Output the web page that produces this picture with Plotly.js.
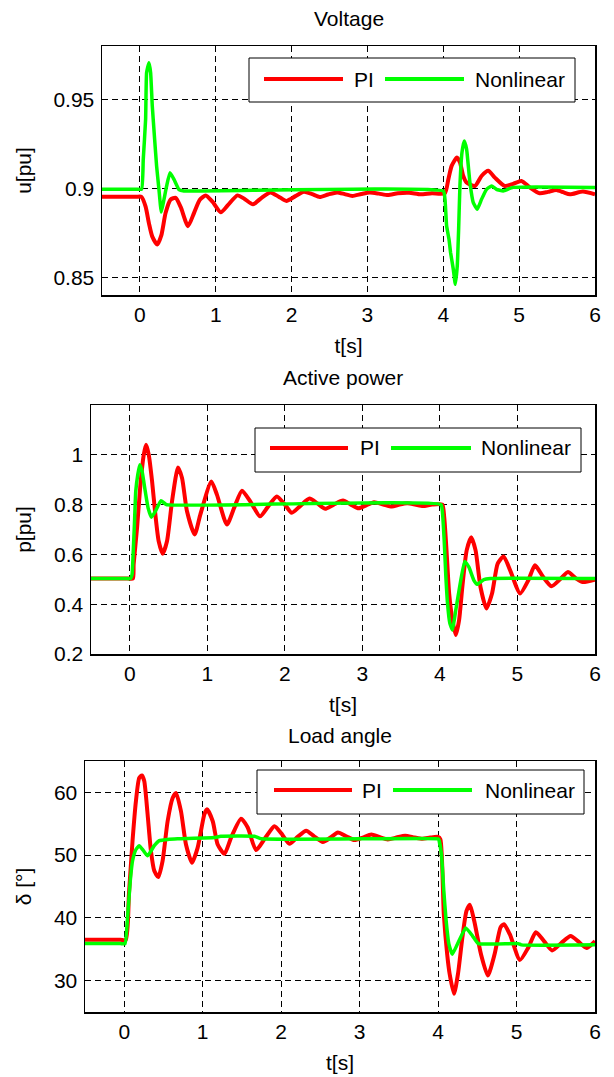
<!DOCTYPE html>
<html>
<head>
<meta charset="utf-8">
<script src="https://cdn.plot.ly/plotly-3.0.1.min.js"></script>
<style>
  html, body { margin: 0; padding: 0; background: #fff; }
  #chart { width: 614px; height: 1077px; }
</style>
</head>
<body>
<div id="chart"></div>
<script>
// ---- Series names and panel titles ----
const seriesNames = ['PI', 'Nonlinear'];
const panelTitles = ['Voltage', 'Active power', 'Load angle'];
const yTitles = ['u[pu]', 'p[pu]', 'δ [°]'];
const xTitle = 't[s]';

// ---- Tick values / labels ----
const timeTicks = [0, 1, 2, 3, 4, 5, 6];
const voltageTicks = [0.85, 0.9, 0.95];
const voltageTickText = ['0.85', '0.9', '0.95'];
const powerTicks = [0.2, 0.4, 0.6, 0.8, 1];
const powerTickText = ['0.2', '0.4', '0.6', '0.8', '1'];
const angleTicks = [30, 40, 50, 60];
const angleTickText = ['30', '40', '50', '60'];

// ---- Voltage, PI controller ----
const voltPiT = [-0.5, -0.05, 0.02, 0.075, 0.119, 0.163, 0.229, 0.282, 0.339, 0.405, 0.471,
  0.537, 0.634, 0.714, 0.79, 0.868, 0.956, 1.066, 1.16, 1.286, 1.38,
  1.49, 1.6, 1.72, 1.83, 1.93, 2.05, 2.16, 2.27, 2.37, 2.48,
  2.6, 2.7, 2.8, 2.92, 3.03, 3.15, 3.27, 3.4, 3.55, 3.7,
  3.85, 4.02, 4.066, 4.11, 4.18, 4.22, 4.263, 4.307, 4.417, 4.504,
  4.592, 4.68, 4.81, 4.92, 5.03, 5.14, 5.27, 5.38, 5.49, 5.58,
  5.67, 5.84, 6.0];
const voltPi = [0.8952, 0.8952, 0.8952, 0.8897, 0.8803, 0.8728, 0.8684, 0.8735, 0.8862, 0.8937, 0.8946,
  0.8895, 0.8787, 0.8862, 0.8935, 0.8960, 0.8925, 0.8865, 0.8905, 0.8960, 0.8940,
  0.8910, 0.8945, 0.8977, 0.8953, 0.8929, 0.8956, 0.8980, 0.8967, 0.8951, 0.8965,
  0.8977, 0.8967, 0.8957, 0.8968, 0.8976, 0.8970, 0.8962, 0.8972, 0.8975, 0.8966,
  0.8972, 0.8972, 0.9050, 0.9126, 0.9173, 0.9145, 0.9069, 0.9032, 0.9013, 0.9069,
  0.9098, 0.9060, 0.9013, 0.9025, 0.9041, 0.9005, 0.8972, 0.8980, 0.8990, 0.8978,
  0.8966, 0.8982, 0.8966];

// ---- Voltage, nonlinear controller ----
const voltNlT = [-0.5, -0.05, 0.022, 0.044, 0.075, 0.088, 0.119, 0.141, 0.163, 0.194, 0.22,
  0.251, 0.282, 0.317, 0.352, 0.396, 0.449, 0.515, 0.581, 4.0, 4.022,
  4.044, 4.075, 4.096, 4.132, 4.158, 4.184, 4.202, 4.219, 4.246, 4.276,
  4.307, 4.351, 4.395, 4.447, 4.504, 4.57, 4.636, 4.70, 4.79, 4.92,
  6.0];
const voltNl = [0.8995, 0.8995, 0.8995, 0.9162, 0.9387, 0.9650, 0.9706, 0.9650, 0.9462, 0.9275, 0.9125,
  0.8993, 0.8866, 0.8937, 0.9012, 0.9087, 0.9050, 0.8993, 0.8985, 0.8985, 0.8938,
  0.8788, 0.8713, 0.8638, 0.8544, 0.8460, 0.8563, 0.8769, 0.9013, 0.9201, 0.9266,
  0.9220, 0.9032, 0.8919, 0.8882, 0.8938, 0.8994, 0.9013, 0.8994, 0.8985, 0.9005,
  0.9005];

// ---- Active power, PI controller ----
const powPiT = [-0.5, -0.02, 0.04, 0.05, 0.094, 0.137, 0.18, 0.21, 0.245, 0.288, 0.33,
  0.373, 0.425, 0.48, 0.545, 0.622, 0.674, 0.738, 0.837, 0.91, 1.052,
  1.124, 1.253, 1.35, 1.447, 1.56, 1.68, 1.79, 1.897, 2.0, 2.09,
  2.2, 2.318, 2.42, 2.52, 2.63, 2.75, 2.85, 2.95, 3.05, 3.15,
  3.27, 3.38, 3.48, 3.58, 3.68, 3.78, 3.9, 4.03, 4.055, 4.085,
  4.119, 4.162, 4.204, 4.247, 4.289, 4.345, 4.404, 4.46, 4.523, 4.6,
  4.672, 4.745, 4.821, 4.906, 5.034, 5.14, 5.226, 5.33, 5.438, 5.55,
  5.651, 5.75, 5.843, 6.0];
const powPi = [0.503, 0.503, 0.503, 0.56, 0.707, 0.88, 1.0, 1.04, 1.0, 0.893, 0.76,
  0.653, 0.603, 0.653, 0.813, 0.949, 0.907, 0.773, 0.68, 0.76, 0.893,
  0.84, 0.72, 0.79, 0.856, 0.81, 0.753, 0.795, 0.833, 0.8, 0.767,
  0.795, 0.824, 0.805, 0.783, 0.8, 0.816, 0.8, 0.785, 0.797, 0.809,
  0.8, 0.792, 0.8, 0.805, 0.8, 0.794, 0.8, 0.8, 0.75, 0.616,
  0.443, 0.336, 0.276, 0.336, 0.469, 0.616, 0.669, 0.616, 0.469, 0.383,
  0.443, 0.563, 0.592, 0.536, 0.443, 0.496, 0.556, 0.51, 0.472, 0.5,
  0.529, 0.505, 0.489, 0.499];

// ---- Active power, nonlinear controller ----
const powNlT = [-0.5, -0.05, 0.009, 0.03, 0.043, 0.06, 0.077, 0.103, 0.129, 0.159, 0.2,
  0.236, 0.279, 0.33, 0.403, 0.472, 4.013, 4.034, 4.055, 4.077, 4.098,
  4.128, 4.162, 4.204, 4.247, 4.319, 4.374, 4.438, 4.481, 4.566, 4.65,
  6.0];
const powNl = [0.503, 0.503, 0.503, 0.52, 0.6, 0.72, 0.853, 0.92, 0.96, 0.933, 0.853,
  0.787, 0.749, 0.773, 0.816, 0.8, 0.8, 0.763, 0.656, 0.509, 0.403,
  0.323, 0.296, 0.376, 0.456, 0.572, 0.549, 0.496, 0.48, 0.499, 0.503,
  0.503];

// ---- Load angle, PI controller ----
const angPiT = [-0.5, -0.05, 0.02, 0.06, 0.106, 0.149, 0.191, 0.226, 0.255, 0.298, 0.34,
  0.383, 0.434, 0.489, 0.553, 0.617, 0.66, 0.723, 0.787, 0.864, 0.936,
  1.021, 1.055, 1.128, 1.191, 1.277, 1.362, 1.489, 1.574, 1.68, 1.8,
  1.915, 2.0, 2.106, 2.21, 2.319, 2.42, 2.532, 2.63, 2.723, 2.83,
  2.936, 3.04, 3.149, 3.25, 3.36, 3.47, 3.58, 3.7, 3.8, 3.9,
  4.0, 4.03, 4.073, 4.116, 4.147, 4.203, 4.254, 4.31, 4.362, 4.405,
  4.461, 4.547, 4.634, 4.72, 4.797, 4.84, 4.914, 5.043, 5.151, 5.246,
  5.35, 5.453, 5.57, 5.69, 5.79, 5.892, 6.0];
const angPi = [36.5, 36.5, 36.5, 43.8, 52.3, 58.6, 62.3, 62.7, 61.8, 56.5, 50.7,
  47.5, 46.5, 49.1, 55.4, 59.1, 59.9, 57.0, 51.7, 48.8, 51.2,
  56.5, 57.3, 55.4, 51.7, 50.2, 52.8, 55.8, 54.4, 50.8, 52.8,
  54.6, 53.5, 51.8, 52.9, 53.9, 53.0, 52.1, 52.8, 53.6, 53.0,
  52.4, 52.8, 53.3, 52.9, 52.5, 52.8, 53.1, 52.8, 52.6, 52.8,
  52.9, 52.5, 40.6, 34.2, 31.1, 27.9, 31.1, 36.9, 41.1, 42.1,
  39.5, 34.2, 30.8, 34.2, 38.5, 39.0, 37.4, 33.3, 35.3, 37.7,
  36.3, 34.8, 36.0, 37.1, 36.2, 35.2, 36.3];

// ---- Load angle, nonlinear controller ----
const angNlT = [-0.5, -0.05, 0.01, 0.043, 0.077, 0.106, 0.149, 0.191, 0.24, 0.298, 0.383,
  0.447, 0.553, 0.68, 1.15, 1.23, 1.66, 1.745, 4.0, 4.009, 4.043,
  4.073, 4.103, 4.138, 4.181, 4.246, 4.353, 4.44, 4.513, 5.02, 5.06,
  6.0];
const angNl = [35.9, 35.9, 35.9, 40.2, 45.9, 49.1, 50.9, 51.5, 50.8, 49.9, 51.5,
  52.3, 52.5, 52.6, 52.8, 53.0, 53.0, 52.6, 52.6, 52.5, 50.1,
  44.3, 39.5, 35.8, 34.2, 35.8, 38.4, 37.1, 35.9, 35.9, 35.7,
  35.7];

// ---- Page geometry (pixels) ----
const W = 614, H = 1077;
const FONT = 'Liberation Sans, Arial, sans-serif';
const RED = '#ff0000', GREEN = '#00ff00';
const fx = p => p / W;
const fy = p => 1 - p / H;

// plot boxes: [left, right, top, bottom] in px
const boxes = [
  [102, 595, 46, 295],
  [91, 595, 405, 654],
  [85, 595, 761, 1012]
];
// legend boxes: [left, right, top, bottom, redStart, redEnd, piText, greenStart, greenEnd, nlText, yMid]
const legends = [
  [249, 575, 58, 102, 264, 343, 353, 385, 464, 474, 79],
  [255, 581, 428, 472, 270, 348, 359, 391, 471, 480, 448],
  [257, 584, 770, 814, 274, 352, 361, 393, 472, 484, 790]
];
const titleY = [19, 377, 735];

const series = [
  [voltPiT, voltPi, voltNlT, voltNl],
  [powPiT, powPi, powNlT, powNl],
  [angPiT, angPi, angNlT, angNl]
];
const yRanges = [[0.84, 0.98], [0.2, 1.2], [25, 65]];
const yTickVals = [voltageTicks, powerTicks, angleTicks];
const yTickTexts = [voltageTickText, powerTickText, angleTickText];

const traces = [];
const layout = {
  width: W, height: H,
  margin: {l: 0, r: 0, t: 0, b: 0},
  paper_bgcolor: '#ffffff',
  plot_bgcolor: '#ffffff',
  showlegend: false,
  font: {family: FONT, size: 21, color: '#000'},
  shapes: [],
  annotations: []
};

const axisCommon = {
  showgrid: true, gridcolor: '#000', gridwidth: 1, griddash: '6px,4px',
  showline: true, mirror: true, linecolor: '#000', linewidth: 1.5,
  zeroline: false, ticks: '', fixedrange: true,
  tickfont: {family: FONT, size: 21, color: '#000'}
};

for (let i = 0; i < 3; i++) {
  const n = i === 0 ? '' : String(i + 1);
  const [l, r, t, b] = boxes[i];
  const [tp, vp, tn, vn] = series[i];
  traces.push({
    x: tp, y: vp, xaxis: 'x' + n, yaxis: 'y' + n, name: seriesNames[0],
    type: 'scatter', mode: 'lines',
    line: {color: RED, width: 4, shape: 'spline', smoothing: 0.6}
  });
  traces.push({
    x: tn, y: vn, xaxis: 'x' + n, yaxis: 'y' + n, name: seriesNames[1],
    type: 'scatter', mode: 'lines',
    line: {color: GREEN, width: 3.5, shape: 'spline', smoothing: 0.4}
  });

  layout['xaxis' + n] = Object.assign({}, axisCommon, {
    domain: [fx(l), fx(r)], anchor: 'y' + n, range: [-0.5, 6],
    tickvals: timeTicks, ticklabelstandoff: 0,
    title: {text: xTitle, font: {family: FONT, size: 21, color: '#000'}, standoff: 13}
  });
  layout['yaxis' + n] = Object.assign({}, axisCommon, {
    domain: [fy(b), fy(t)], anchor: 'x' + n, range: yRanges[i],
    tickvals: yTickVals[i], ticktext: yTickTexts[i], ticklabelstandoff: 2,
    title: {text: yTitles[i], font: {family: FONT, size: 21, color: '#000'}, standoff: 16}
  });

  // panel title
  layout.annotations.push({
    xref: 'paper', yref: 'paper', x: fx((l + r) / 2), y: fy(titleY[i]),
    xanchor: 'center', yanchor: 'middle', showarrow: false,
    text: panelTitles[i], font: {family: FONT, size: 21, color: '#000'}
  });

  // legend box with line samples
  const g = legends[i];
  layout.shapes.push({
    type: 'rect', xref: 'paper', yref: 'paper', layer: 'above',
    x0: fx(g[0]), x1: fx(g[1]), y0: fy(g[3]), y1: fy(g[2]),
    line: {color: '#000', width: 1}, fillcolor: '#ffffff'
  });
  layout.shapes.push({
    type: 'line', xref: 'paper', yref: 'paper', layer: 'above',
    x0: fx(g[4]), x1: fx(g[5]), y0: fy(g[10]), y1: fy(g[10]),
    line: {color: RED, width: 4}
  });
  layout.shapes.push({
    type: 'line', xref: 'paper', yref: 'paper', layer: 'above',
    x0: fx(g[7]), x1: fx(g[8]), y0: fy(g[10]), y1: fy(g[10]),
    line: {color: GREEN, width: 4}
  });
  layout.annotations.push({
    xref: 'paper', yref: 'paper', x: fx(g[6]), y: fy(g[10]),
    xanchor: 'left', yanchor: 'middle', showarrow: false, borderpad: 0,
    text: seriesNames[0], font: {family: FONT, size: 21, color: '#000'}
  });
  layout.annotations.push({
    xref: 'paper', yref: 'paper', x: fx(g[9]), y: fy(g[10]),
    xanchor: 'left', yanchor: 'middle', showarrow: false, borderpad: 0,
    text: seriesNames[1], font: {family: FONT, size: 21, color: '#000'}
  });
}

Plotly.newPlot('chart', traces, layout, {staticPlot: true, displayModeBar: false});
</script>
</body>
</html>
